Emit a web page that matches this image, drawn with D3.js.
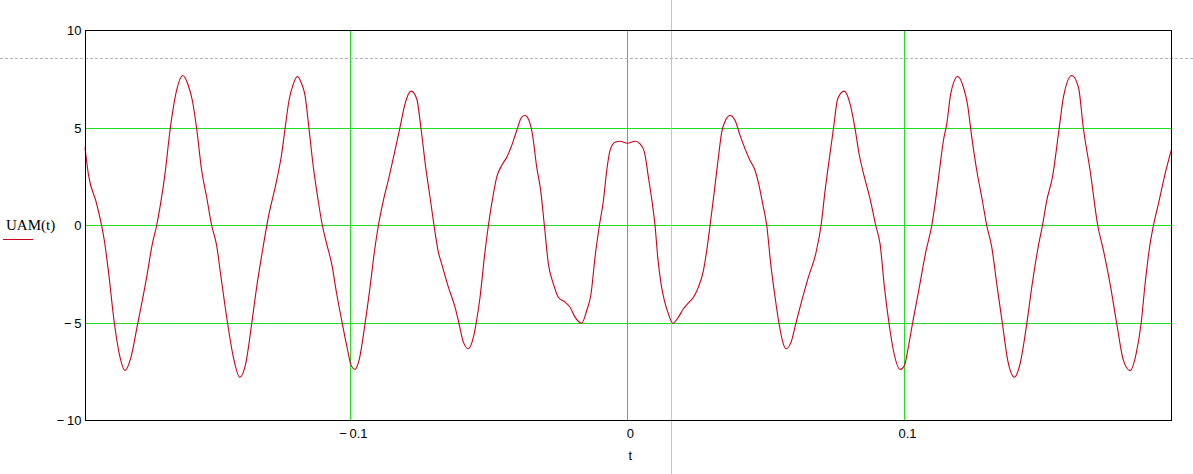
<!DOCTYPE html>
<html><head><meta charset="utf-8">
<script src="https://cdn.jsdelivr.net/npm/d3@7"></script>
<style>body{margin:0;background:#fff}svg{display:block}</style>
</head><body>
<svg id="chart" width="1193" height="474"></svg>
<script>
// t values (s)
const tValues = [
 -0.19580,-0.19460,-0.19159,-0.18882,-0.18738,-0.18521,-0.18317,-0.18136,-0.17920,-0.17679,
 -0.17558,-0.17354,-0.17149,-0.16993,-0.16873,-0.16692,-0.16512,-0.16271,-0.16054,-0.15850,
 -0.15705,-0.15549,-0.15368,-0.15188,-0.15007,-0.14827,-0.14670,-0.14430,-0.14225,-0.13996,
 -0.13780,-0.13563,-0.13383,-0.13202,-0.12961,-0.12661,-0.12480,-0.12360,-0.12216,-0.12059,
 -0.11915,-0.11783,-0.11638,-0.11494,-0.11337,-0.11181,-0.11012,-0.10856,-0.10675,-0.10495,
 -0.10290,-0.10097,-0.09977,-0.09833,-0.09689,-0.09472,-0.09291,-0.09135,-0.08990,-0.08810,
 -0.08605,-0.08389,-0.08208,-0.08028,-0.07811,-0.07606,-0.07450,-0.07282,-0.07125,-0.06981,
 -0.06824,-0.06704,-0.06463,-0.06223,-0.06078,-0.05922,-0.05741,-0.05560,-0.05465,-0.05320,
 -0.05164,-0.05019,-0.04838,-0.04718,-0.04538,-0.04357,-0.04177,-0.03996,-0.03816,-0.03696,
 -0.03551,-0.03431,-0.03274,-0.03130,-0.02998,-0.02853,-0.02673,-0.02492,-0.02252,-0.02071,
 -0.01891,-0.01650,-0.01469,-0.01313,-0.01169,-0.01012,-0.00866,-0.00747,-0.00627,-0.00447,
 -0.00266,0.00000,0.00275,0.00456,0.00613,0.00757,0.00901,0.00997,0.01094,0.01214,
 0.01335,0.01479,0.01635,0.01840,0.02021,0.02201,0.02382,0.02562,0.02743,0.02863,
 0.02983,0.03140,0.03284,0.03404,0.03549,0.03705,0.03886,0.04066,0.04247,0.04427,
 0.04608,0.04752,0.04884,0.05029,0.05173,0.05330,0.05474,0.05594,0.05727,0.05907,
 0.06076,0.06232,0.06533,0.06798,0.06990,0.07135,0.07279,0.07436,0.07592,0.07821,
 0.08037,0.08218,0.08362,0.08555,0.08759,0.08964,0.09120,0.09277,0.09445,0.09602,
 0.09843,0.09999,0.10119,0.10288,0.10504,0.10769,0.10986,0.11106,0.11263,0.11407,
 0.11527,0.11671,0.11924,0.12129,0.12273,0.12430,0.12610,0.12791,0.12971,0.13152,
 0.13332,0.13537,0.13729,0.13970,0.14174,0.14415,0.14596,0.14836,0.14981,0.15137,
 0.15342,0.15583,0.15739,0.16040,0.16281,0.16461,0.16702,0.16978,0.17183,0.17423,
 0.17664,0.17905,0.18146,0.18362,0.18542,0.18687,0.18867,0.18988,0.19168,0.19409,
 0.19640
];
// UAM(t) values
const uamValues = [
 4.0,2.65,1.11,-0.77,-2.3,-5.0,-6.75,-7.44,-6.75,-5.04,
 -4.19,-2.65,-0.94,0,0.94,2.65,4.87,6.94,7.69,7.18,
 6.41,4.96,2.82,1.45,0,-1.03,-2.65,-5.04,-6.75,-7.78,
 -7.09,-5.04,-3.16,-1.54,0.43,2.31,3.68,4.96,6.41,7.26,
 7.64,7.35,6.67,4.96,2.99,1.45,0,-0.94,-1.97,-3.50,
 -5.04,-6.41,-7.16,-7.38,-6.92,-5.04,-3.16,-1.37,0,1.28,
 2.48,3.85,5.04,6.24,6.89,6.50,4.96,2.99,1.45,0,
 -1.37,-1.97,-3.16,-4.19,-5.04,-5.98,-6.32,-5.73,-5.04,-3.68,
 -1.62,0,1.62,2.48,3.08,3.50,4.10,4.87,5.56,5.64,
 5.38,4.70,2.99,1.79,0,-1.97,-2.99,-3.68,-3.93,-4.19,
 -4.70,-5.01,-4.36,-3.50,-1.62,0,1.28,2.82,3.85,4.27,
 4.32,4.22,4.32,4.19,3.76,2.48,1.11,0,-1.62,-2.99,
 -3.85,-4.53,-5.01,-4.70,-4.27,-3.97,-3.68,-3.16,-2.31,-1.28,
 0,1.79,3.50,4.79,5.42,5.64,5.38,4.62,3.93,3.33,
 2.82,2.05,1.11,0,-1.97,-3.68,-5.04,-5.90,-6.32,-5.98,
 -5.04,-4.19,-2.65,-1.45,0,1.79,3.33,4.96,6.50,6.89,
 6.24,4.96,3.68,2.48,1.37,0,-0.94,-3.16,-5.04,-6.41,
 -7.38,-7.18,-6.41,-5.04,-3.42,-1.37,0,1.11,2.82,4.36,
 5.21,6.75,7.64,7.09,6.24,4.53,2.82,1.45,0,-1.11,
 -2.99,-5.04,-6.92,-7.78,-7.09,-5.04,-3.16,-1.03,0,1.28,
 2.48,4.96,6.58,7.69,7.09,4.96,2.82,0,-1.28,-2.99,
 -5.04,-6.92,-7.44,-6.58,-5.04,-2.99,-0.94,0,1.11,2.65,
 3.9
];
const xDomain = [-0.1958, 0.1964];
const yDomain = [-10, 10];
const xGridValues = [-0.1, 0, 0.1];
const yGridValues = [-5, 0, 5];
const xTickValues = [-0.1, 0, 0.1];
const xTickLabels = ["\u2212\u20090.1", "0", "0.1"];
const yTickValues = [-10, -5, 0, 5, 10];
const yTickLabels = ["\u2212\u200910", "\u2212\u20095", "0", "5", "10"];
const xAxisTitle = "t";
const seriesName = "UAM(t)";
const cursorT = 0.0158;
const cursorU = 8.56;

const W = 1193, H = 474;
const svg = d3.select("#chart");
svg.append("rect").attr("width", W).attr("height", H).attr("fill", "#fff");

const x = d3.scaleLinear().domain(xDomain).range([85, 1171.5]);
const y = d3.scaleLinear().domain(yDomain).range([420.5, 30.5]);
const px = v => Math.floor(v) + 0.5;
const pLeft = px(x(xDomain[0])), pRight = px(x(xDomain[1]) - 0.5);
const pTop = px(y(yDomain[1])), pBottom = px(y(yDomain[0]));
const numFont = "'Liberation Sans Narrow','Arial Narrow','Liberation Sans',Arial,sans-serif";
const green = "#22dd22";
const red = "#cc0018";

// grid
const grid = svg.append("g").attr("class", "grid");
grid.selectAll("line.vx").data(xGridValues).join("line").attr("class", "vx")
  .attr("x1", d => px(x(d))).attr("x2", d => px(x(d)))
  .attr("y1", pTop).attr("y2", pBottom)
  .attr("stroke", green).attr("stroke-width", 1);
grid.selectAll("line.hy").data(yGridValues).join("line").attr("class", "hy")
  .attr("y1", d => px(y(d))).attr("y2", d => px(y(d)))
  .attr("x1", pLeft).attr("x2", pRight)
  .attr("stroke", green).attr("stroke-width", 1);

// cursor (trace) lines
svg.append("line").attr("x1", 0).attr("x2", W)
  .attr("y1", px(y(cursorU))).attr("y2", px(y(cursorU)))
  .attr("stroke", "#b4b4b4").attr("stroke-width", 1).attr("stroke-dasharray", "3,2");
svg.append("line").attr("y1", 0).attr("y2", H)
  .attr("x1", px(x(cursorT))).attr("x2", px(x(cursorT)))
  .attr("stroke", "#c4c4c4").attr("stroke-width", 1);

// curve
const pts = tValues.map((t, i) => [t, uamValues[i]]);
const line = d3.line().x(d => x(d[0])).y(d => y(d[1])).curve(d3.curveMonotoneX);
svg.append("path").datum(pts).attr("d", line)
  .attr("fill", "none").attr("stroke", red).attr("stroke-width", 1.1);

// frame
svg.append("rect").attr("x", pLeft).attr("y", pTop)
  .attr("width", pRight - pLeft).attr("height", pBottom - pTop)
  .attr("fill", "none").attr("stroke", "#000").attr("stroke-width", 1);

// y tick labels
const yl = svg.append("g").attr("transform", `translate(${pLeft},0)`)
  .call(d3.axisLeft(y).tickValues(yTickValues).tickSize(0).tickPadding(4)
    .tickFormat((d, i) => yTickLabels[i]));
yl.select(".domain").remove();
yl.selectAll(".tick line").remove();
yl.selectAll("text").attr("font-family", numFont).attr("font-size", 13).attr("fill", "#000");

// x tick labels
const xl = svg.append("g").attr("transform", `translate(0,${pBottom})`)
  .call(d3.axisBottom(x).tickValues(xTickValues).tickSize(0).tickPadding(8)
    .tickFormat((d, i) => xTickLabels[i]));
xl.select(".domain").remove();
xl.selectAll(".tick line").remove();
xl.selectAll("text").attr("font-family", numFont).attr("font-size", 13).attr("fill", "#000").attr("dx", 2.5);

// x axis title
svg.append("text").attr("x", x(0) + 3).attr("y", 460).attr("text-anchor", "middle")
  .attr("font-family", numFont).attr("font-size", 13).text(xAxisTitle);

// legend
svg.append("text").attr("x", 6).attr("y", 230)
  .attr("font-family", "'Liberation Serif','Times New Roman',serif").attr("font-size", 15)
  .text(seriesName);
svg.append("line").attr("x1", 3).attr("x2", 33).attr("y1", 239.5).attr("y2", 239.5)
  .attr("stroke", red).attr("stroke-width", 1);
</script>
</body></html>
